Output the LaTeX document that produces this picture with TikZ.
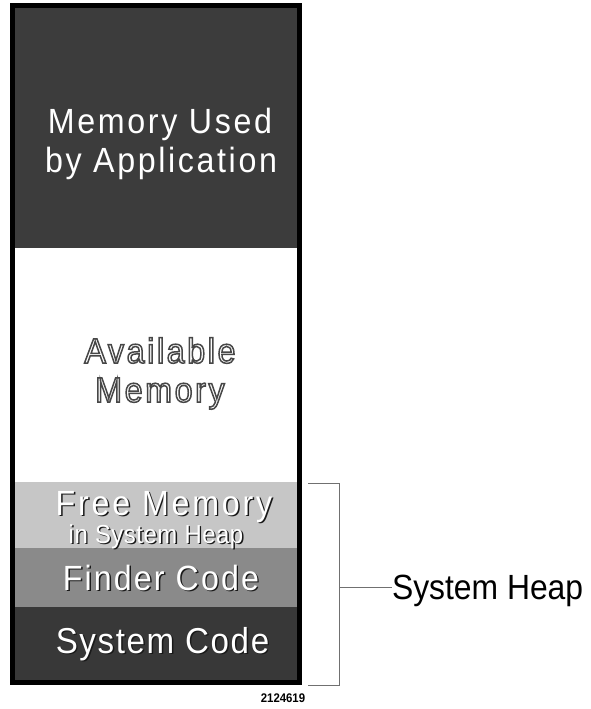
\documentclass[tikz,border=0pt]{standalone}
\usepackage{fontspec}
\newfontfamily\colA[FakeStretch=0.92,LetterSpace=7.5]{Liberation Sans}
\newfontfamily\colB[FakeStretch=0.92,LetterSpace=8]{Liberation Sans}
\newfontfamily\colF[FakeStretch=0.92,LetterSpace=6]{Liberation Sans}
\newfontfamily\colC[FakeStretch=0.92,LetterSpace=4.5]{Liberation Sans}
\newfontfamily\colD[FakeStretch=0.92,LetterSpace=2]{Liberation Sans}
\newfontfamily\condn[FakeStretch=0.91]{Liberation Sans}
\definecolor{appcol}{HTML}{3C3C3C}
\definecolor{freecol}{HTML}{C6C6C6}
\definecolor{findercol}{HTML}{8A8A8A}
\definecolor{syscol}{HTML}{383838}
\definecolor{linecol}{HTML}{707070}
\tikzset{
  txt/.style={anchor=base, inner sep=0pt, outer sep=0pt},
  brk/.style={draw=linecol, line width=0.8pt},
}
% shadowed white text
\newcommand\shw[1]{\rlap{\kern1.4pt\raisebox{-1.4pt}{\color{black!90}#1}}\textcolor{white}{#1}}
% outlined white text (fill + stroke rendering mode)
\newcommand\olw[1]{\special{pdf:literal direct 2 Tr 1.5 w 0.28 G}#1\special{pdf:literal direct 0 Tr 0.4 w}}
\begin{document}
\begin{tikzpicture}[x=1pt,y=-1pt]
\useasboundingbox (0,0) rectangle (591,709);
\fill[white] (0,0) rectangle (591,709);
% regions
\fill[appcol] (12,5) rectangle (300,248);
\fill[freecol] (12,482) rectangle (300,548);
\fill[findercol] (12,548) rectangle (300,607);
\fill[syscol] (12,607) rectangle (300,683);
\draw[line width=5pt] (12.5,6) rectangle (299.5,682);
% texts
\node[txt, text=white, font={\colA\fontsize{35}{35}\selectfont}] (app1) at (160,133) {Memory Used};
\node[txt, text=white, font={\colA\fontsize{35}{35}\selectfont}] (app2) at (161,172) {by Application};
\node[txt, text=white, font={\colA\fontsize{35}{35}\selectfont}] (av1) at (160,363) {\olw{Available}};
\node[txt, text=white, font={\colA\fontsize{35}{35}\selectfont}] (av2) at (160,402) {\olw{Memory}};
\node[txt, font={\colB\fontsize{35}{35}\selectfont}] (fr1) at (164,515) {\shw{Free Memory}};
\node[txt, font={\colD\fontsize{26}{26}\selectfont}] (fr2) at (156,543) {\shw{in System Heap}};
\node[txt, font={\colF\fontsize{35}{35}\selectfont}] (fi) at (161,590) {\shw{Finder Code}};
\node[txt, font={\colC\fontsize{36}{36}\selectfont}] (sy) at (162.5,653) {\shw{System Code}};
\node[txt, font={\condn\bfseries\fontsize{12.5}{12.5}\selectfont}] (num) at (283,702) {2124619};
% bracket
\coordinate (bt0) at (308,483);
\coordinate (bt1) at (339,483);
\coordinate (bb1) at (339,685);
\coordinate (bb0) at (308,685);
\coordinate (bm) at (339,587);
\draw[brk] (bt0) -- (bt1) -- (bb1) -- (bb0);
\node[txt, anchor=base west, font={\condn\fontsize{35}{35}\selectfont}] (heap) at (392,599) {System Heap};
\draw[brk] (bm) -- (heap.west |- bm);
\end{tikzpicture}
\end{document}
